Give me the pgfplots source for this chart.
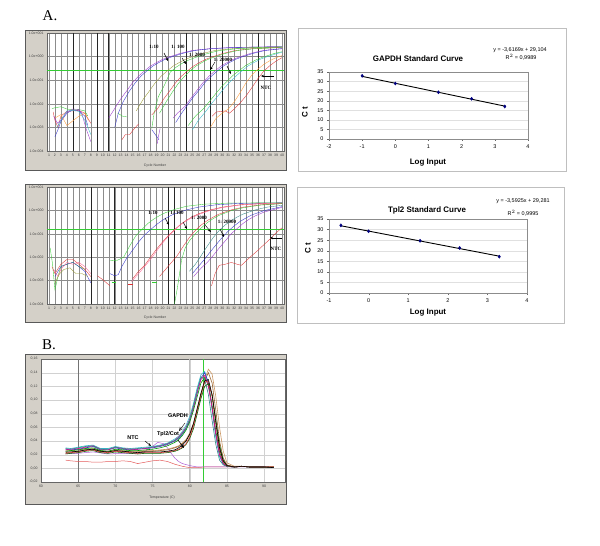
\documentclass[border=0pt]{standalone}
\usepackage{fontspec}
\setmainfont{Liberation Serif}
\setsansfont{Liberation Sans}
\usepackage{pgfplots}
\pgfplotsset{compat=1.18}
\usepackage{pgfplotstable}
\usetikzlibrary{arrows.meta}
\definecolor{winbg}{HTML}{D4D0C8}
\definecolor{thr}{HTML}{33CC33}
\definecolor{cpur}{HTML}{9933CC}
\definecolor{cblu}{HTML}{3333CC}
\definecolor{coli}{HTML}{999933}
\definecolor{cgrn}{HTML}{33CC33}
\definecolor{cred}{HTML}{DD3333}
\definecolor{cpnk}{HTML}{FF6699}
\definecolor{ccya}{HTML}{33BBCC}
\definecolor{cora}{HTML}{FF9933}
\definecolor{ctea}{HTML}{338888}
\definecolor{cnavy}{HTML}{000080}
\definecolor{ctan}{HTML}{CC9966}
\definecolor{cbrn}{HTML}{996633}

\pgfplotstableread{
x m1 m2 m3 m4 m5 m6 m7 m8 m9 m10
63.3 0.028 0.025 0.022 0.024 0.030 0.026 0.027 0.021 0.023 0.029
64 0.027 0.026 0.023 0.024 0.029 0.026 0.028 0.022 0.024 0.028
65 0.028 0.027 0.024 0.025 0.031 0.027 0.029 0.023 0.025 0.030
66 0.030 0.029 0.026 0.027 0.033 0.028 0.031 0.025 0.027 0.032
67 0.032 0.030 0.027 0.028 0.034 0.029 0.033 0.026 0.028 0.033
68 0.027 0.026 0.024 0.025 0.029 0.026 0.028 0.023 0.025 0.028
69 0.027 0.025 0.023 0.024 0.029 0.025 0.027 0.022 0.024 0.028
70 0.030 0.028 0.025 0.026 0.032 0.027 0.031 0.024 0.026 0.031
71 0.028 0.027 0.024 0.025 0.030 0.026 0.029 0.023 0.025 0.029
72 0.027 0.026 0.023 0.024 0.029 0.025 0.028 0.022 0.024 0.028
73 0.028 0.026 0.022 0.023 0.030 0.025 0.028 0.021 0.024 0.029
74 0.029 0.027 0.023 0.024 0.031 0.026 0.029 0.022 0.025 0.030
75 0.030 0.028 0.023 0.024 0.032 0.026 0.031 0.022 0.025 0.031
76 0.032 0.030 0.023 0.024 0.034 0.027 0.033 0.022 0.026 0.033
77 0.035 0.033 0.024 0.025 0.037 0.028 0.036 0.023 0.027 0.036
78 0.040 0.038 0.026 0.027 0.043 0.031 0.041 0.025 0.030 0.041
78.5 0.044 0.042 0.028 0.030 0.047 0.033 0.046 0.027 0.032 0.045
79 0.050 0.048 0.031 0.034 0.054 0.037 0.052 0.030 0.036 0.051
79.5 0.058 0.056 0.036 0.040 0.063 0.042 0.060 0.035 0.041 0.059
80 0.070 0.068 0.046 0.050 0.076 0.052 0.072 0.044 0.050 0.072
80.5 0.088 0.085 0.062 0.066 0.095 0.066 0.090 0.058 0.064 0.092
81 0.110 0.105 0.085 0.088 0.118 0.085 0.112 0.080 0.084 0.115
81.5 0.132 0.125 0.108 0.110 0.137 0.108 0.130 0.102 0.106 0.134
82 0.140 0.133 0.126 0.128 0.142 0.130 0.136 0.120 0.128 0.130
82.5 0.125 0.122 0.128 0.130 0.125 0.145 0.120 0.124 0.140 0.108
83 0.090 0.092 0.105 0.108 0.085 0.138 0.088 0.108 0.125 0.070
83.5 0.050 0.055 0.065 0.068 0.045 0.105 0.050 0.072 0.085 0.035
84 0.020 0.024 0.028 0.030 0.017 0.060 0.020 0.034 0.040 0.012
84.5 0.007 0.008 0.010 0.011 0.006 0.025 0.007 0.012 0.015 0.005
85 0.003 0.003 0.004 0.004 0.003 0.008 0.003 0.004 0.005 0.003
86 0.002 0.002 0.002 0.002 0.002 0.003 0.002 0.002 0.002 0.002
87 0.003 0.003 0.003 0.003 0.003 0.003 0.003 0.003 0.003 0.003
88 0.002 0.002 0.002 0.002 0.002 0.002 0.002 0.002 0.002 0.002
89 0.002 0.002 0.002 0.002 0.002 0.002 0.002 0.002 0.002 0.002
90 0.002 0.001 0.002 0.002 0.002 0.002 0.002 0.002 0.002 0.002
91.3 0.001 0.001 0.002 0.001 0.001 0.001 0.001 0.002 0.001 0.001
}\melttable

\begin{document}
\begin{tikzpicture}
\useasboundingbox (0,0) rectangle (600bp,-546bp);
\fill[white] (0,0) rectangle (600bp,-546bp);
\begin{scope}[x=1bp,y=-1bp]
 \fill[winbg] (25,30) rectangle (286,170);
 \draw[black!65, line width=0.6pt] (25,30) rectangle (286,170);
 \fill[winbg] (25,184) rectangle (286,322);
 \draw[black!65, line width=0.6pt] (25,184) rectangle (286,322);
 \fill[winbg] (25,354) rectangle (286,504);
 \draw[black!65, line width=0.6pt] (25,354) rectangle (286,504);
 \draw[black!25, line width=0.5pt] (298,28) rectangle (566,171);
 \draw[black!25, line width=0.5pt] (297,187) rectangle (564,323);
 \node[font=\fontsize{15}{15}\selectfont] at (50,16) {A.};
 \node[font=\fontsize{15}{15}\selectfont] at (49,345) {B.};
 \node[font=\sffamily\fontsize{3.5}{4}\selectfont, text=black!75] at (155,166) {Cycle Number};
 \node[font=\sffamily\fontsize{3.5}{4}\selectfont, text=black!75] at (155,318) {Cycle Number};
 \node[font=\sffamily\fontsize{3.5}{4}\selectfont, text=black!75] at (162,498) {Temperature (C)};
 \node[font=\sffamily\bfseries\fontsize{8}{8}\selectfont] at (418,59) {GAPDH Standard Curve};
 \node[font=\sffamily\fontsize{5.5}{6}\selectfont] at (520,50) {y = -3,6169x + 29,104};
 \node[font=\sffamily\fontsize{5.5}{6}\selectfont] at (521,57) {R$^2$ = 0,9989};
 \node[font=\sffamily\bfseries\fontsize{8}{8}\selectfont, rotate=90] at (305,112) {C t};
 \node[font=\sffamily\bfseries\fontsize{8}{8}\selectfont] at (428,163) {Log Input};
 \node[font=\sffamily\bfseries\fontsize{8}{8}\selectfont] at (427,210) {Tpl2 Standard Curve};
 \node[font=\sffamily\fontsize{5.5}{6}\selectfont] at (523,201) {y = -3,5925x + 29,281};
 \node[font=\sffamily\fontsize{5.5}{6}\selectfont] at (523,213) {R$^2$ = 0,9995};
 \node[font=\sffamily\bfseries\fontsize{8}{8}\selectfont, rotate=90] at (308,248) {C t};
 \node[font=\sffamily\bfseries\fontsize{8}{8}\selectfont] at (428,313) {Log Input};
\end{scope}

% ---------- GAPDH amplification ----------
\begin{axis}[scale only axis, width=237bp, height=118bp, anchor=north west,
  at={(47bp,-33bp)},
  xmin=0.67, xmax=40.33, ymode=log, ymin=1e-4, ymax=10,
  xtick={1,...,40}, ytick={1e-4,1e-3,1e-2,1e-1,1,10},
  yticklabels={1.0e-004,1.0e-003,1.0e-002,1.0e-001,1.0e+000,1.0e+001},
  yminorticks=false,
  tick label style={font=\sffamily\fontsize{3.5}{4}\selectfont, text=black!75},
  /pgf/number format/assume math mode=true,
  xmajorgrids, ymajorgrids, grid style={black!45, line width=0.3pt},
  major tick length=0pt,
  axis line style={black!60},
  axis background/.style={fill=white},
  every axis plot/.append style={line width=0.35pt, mark=none}]
\addplot[black!85, line width=0.5pt] coordinates {(5,1e-4)(5,10)};
\addplot[black!85, line width=0.5pt] coordinates {(9,1e-4)(9,10)};
\addplot[black!85, line width=0.5pt] coordinates {(11,1e-4)(11,10)};
\addplot[black!85, line width=0.5pt] coordinates {(24,1e-4)(24,10)};
\addplot[black!85, line width=0.5pt] coordinates {(28,1e-4)(28,10)};
\addplot[black!85, line width=0.5pt] coordinates {(30,1e-4)(30,10)};
\addplot[black!85, line width=0.5pt] coordinates {(36,1e-4)(36,10)};
\addplot[thr, line width=1.1pt] coordinates {(0.67,0.25)(40.33,0.25)};
\addplot[cgrn] coordinates {(1.5,0.0063)(2,0.0068)(3,0.0075)(4,0.006)(5,0.0055)(6,0.0057)(7,0.005)(7.5,0.003)};
\addplot[cred] coordinates {(1.7,0.0045)(2,0.002)(2.5,0.001)(3,0.003)(4,0.0048)(5,0.005)(6,0.0052)(7,0.004)(8,0.0015)};
\addplot[cblu] coordinates {(2,0.0004)(2.5,0.0008)(3,0.0018)(4,0.004)(5,0.0055)(6,0.005)(7,0.003)(7.5,0.0012)};
\addplot[cpur] coordinates {(1.8,0.003)(2.4,0.0015)(3,0.002)(4,0.0045)(5,0.006)(6,0.0058)(6.5,0.004)(7.2,0.0009)(8,0.00025)};
\addplot[cora] coordinates {(2,0.0025)(3,0.0035)(4,0.0012)(5,0.0019)(6,0.003)(7,0.004)(7.6,0.002)};
\addplot[ccya] coordinates {(2.3,0.001)(3,0.002)(4,0.005)(5,0.0052)(6,0.0048)(7,0.002)(8,0.0005)};
\addplot[cred] coordinates {(13.2,0.0003)(13.8,0.0005)(14.5,0.0005)(15.3,0.0009)(16.0,0.0014)};
\addplot[cgrn] coordinates {(12.5,0.004)(13.3,0.003)(14.0,0.0028)};
\addplot[cblu] coordinates {(18.2,0.0008)(18.8,0.0005)(19.4,0.0003)};
\addplot[cpur] coordinates {(19.6,0.0009)(19.3,0.0004)(19.1,0.0002)};
\addplot[cpur] coordinates {(11.0,0.0025)(12,0.0063)(13,0.016)(14,0.035)(15,0.079)(16,0.15)(17,0.25)(18,0.40)(19,0.56)(20,0.76)(21,0.95)(23,1.38)(25,1.82)(28,2.19)(32,2.45)(37,2.57)(40,2.6)};
\addplot[cblu] coordinates {(12.0,0.001)(12.6,0.004)(13.4,0.012)(14.4,0.033)(15.4,0.075)(16.4,0.15)(17.4,0.25)(18.4,0.40)(19.4,0.56)(20.4,0.76)(21.4,0.95)(23.4,1.38)(25.4,1.82)(28.4,2.19)(32.4,2.45)(37.4,2.57)(40,2.6)};
\addplot[coli] coordinates {(15.6,0.005)(16.8,0.016)(17.8,0.035)(18.8,0.079)(19.8,0.15)(20.8,0.25)(21.8,0.40)(22.8,0.56)(23.8,0.76)(24.8,0.95)(26.8,1.38)(28.8,1.82)(31.8,2.19)(35.8,2.45)(40,2.57)};
\addplot[cgrn] coordinates {(18.2,0.0009)(18.6,0.004)(19.3,0.02)(20.3,0.06)(21.3,0.22)(22.3,0.36)(23.3,0.52)(24.3,0.7)(25.3,0.88)(27.3,1.3)(29.3,1.75)(32.3,2.15)(36.3,2.42)(40,2.55)};
\addplot[cred] coordinates {(18.2,0.0034)(19.2,0.0063)(20.2,0.016)(21.2,0.035)(22.2,0.079)(23.2,0.15)(24.2,0.25)(25.2,0.40)(26.2,0.56)(27.2,0.76)(28.2,0.95)(30.2,1.38)(32.2,1.82)(35.2,2.19)(40,2.45)};
\addplot[cgrn] coordinates {(19.5,0.004)(20.6,0.012)(21.6,0.03)(22.6,0.07)(23.6,0.14)(24.6,0.25)(25.6,0.40)(26.6,0.56)(27.6,0.76)(28.6,0.95)(30.6,1.38)(32.6,1.82)(35.6,2.19)(40,2.42)};
\addplot[cpur] coordinates {(21.8,0.0025)(22.5,0.004)(23.8,0.008)(24.8,0.018)(25.8,0.038)(26.8,0.08)(27.8,0.15)(28.8,0.25)(29.8,0.40)(30.8,0.56)(31.8,0.76)(32.8,0.95)(34.8,1.38)(36.8,1.82)(40,2.2)};
\addplot[cblu] coordinates {(22.2,0.0016)(23.2,0.004)(24.2,0.009)(25.2,0.02)(26.2,0.04)(27.2,0.085)(28.2,0.15)(29.2,0.25)(30.2,0.40)(31.2,0.56)(32.2,0.76)(33.2,0.95)(35.2,1.38)(37.2,1.82)(40,2.15)};
\addplot[cgrn] coordinates {(24.3,0.0012)(25.5,0.003)(26.8,0.006)(27.8,0.012)(28.8,0.025)(29.8,0.05)(30.8,0.09)(31.8,0.16)(32.8,0.25)(33.8,0.40)(34.8,0.56)(35.8,0.76)(36.8,0.95)(38.8,1.38)(40,1.6)};
\addplot[ccya] coordinates {(25,0.0008)(26,0.002)(27.3,0.005)(28.3,0.011)(29.3,0.022)(30.3,0.045)(31.3,0.085)(32.3,0.15)(33.3,0.25)(34.3,0.40)(35.3,0.56)(36.3,0.76)(37.3,0.95)(39.3,1.38)(40,1.5)};
\addplot[cora] coordinates {(28,0.001)(29,0.0025)(30,0.004)(31,0.006)(32,0.012)(33,0.03)(34,0.08)(35,0.17)(36,0.3)(37,0.48)(38,0.68)(39,0.9)(40,1.1)};
\addplot[cred] coordinates {(28.3,0.003)(29,0.0045)(30.5,0.005)(31.2,0.004)(32,0.006)(33,0.011)(34,0.022)(35,0.05)(36,0.12)(37,0.25)(38,0.42)(39,0.65)(40,0.9)};
\end{axis}

% ---------- Tpl2 amplification ----------
\begin{axis}[scale only axis, width=237bp, height=117bp, anchor=north west,
  at={(47bp,-187bp)},
  xmin=0.67, xmax=40.33, ymode=log, ymin=1e-4, ymax=10,
  xtick={1,...,40}, ytick={1e-4,1e-3,1e-2,1e-1,1,10},
  yticklabels={1.0e-004,1.0e-003,1.0e-002,1.0e-001,1.0e+000,1.0e+001},
  yminorticks=false,
  tick label style={font=\sffamily\fontsize{3.5}{4}\selectfont, text=black!75},
  /pgf/number format/assume math mode=true,
  xmajorgrids, ymajorgrids, grid style={black!45, line width=0.3pt},
  major tick length=0pt,
  axis line style={black!60},
  axis background/.style={fill=white},
  every axis plot/.append style={line width=0.35pt, mark=none}]
\addplot[black!85, line width=0.5pt] coordinates {(8,1e-4)(8,10)};
\addplot[black!85, line width=0.5pt] coordinates {(12,1e-4)(12,10)};
\addplot[black!85, line width=0.5pt] coordinates {(21,1e-4)(21,10)};
\addplot[black!85, line width=0.5pt] coordinates {(22,1e-4)(22,10)};
\addplot[black!85, line width=0.5pt] coordinates {(27,1e-4)(27,10)};
\addplot[black!85, line width=0.5pt] coordinates {(38,1e-4)(38,10)};
\addplot[thr, line width=1.1pt] coordinates {(0.67,0.15)(40.33,0.15)};
\addplot[cgrn] coordinates {(1.2,0.025)(1.6,0.005)(2,0.0004)(2.5,0.0015)(3,0.004)(4,0.005)(5,0.006)(6,0.004)(7,0.003)};
\addplot[cred] coordinates {(1.5,0.004)(2,0.002)(3,0.005)(4,0.008)(5,0.008)(6,0.005)(7,0.003)(8,0.0015)};
\addplot[cblu] coordinates {(2,0.0015)(3,0.004)(4,0.005)(5,0.006)(6,0.004)(7,0.0025)(8,0.0008)};
\addplot[cpnk] coordinates {(1.8,0.003)(2.5,0.0015)(3,0.003)(4,0.006)(5,0.005)(6,0.006)(7,0.004)(8,0.002)};
\addplot[coli] coordinates {(2,0.0008)(2.8,0.002)(3.5,0.003)(4.5,0.0035)(5.5,0.002)(6.5,0.002)(7.5,0.0015)};
\addplot[cred] coordinates {(9.1,0.0016)(10,0.0011)(11.2,0.0006)};
\addplot[cgrn] coordinates {(11.5,0.0009)(12.3,0.0009)};
\addplot[cred] coordinates {(14.3,0.0007)(15.0,0.0007)};
\addplot[cgrn] coordinates {(18.3,0.0009)(19.0,0.0009)};
\addplot[cgrn] coordinates {(11.2,0.007)(12.5,0.0075)(13.5,0.01)(14.5,0.03)(15.5,0.08)(16.5,0.15)(17.5,0.27)(18.5,0.42)(19.5,0.6)(20.5,0.8)(22,1.1)(24,1.5)(27,1.85)(31,2.05)(36,2.1)(40,2.1)};
\addplot[cblu] coordinates {(11.2,0.002)(12,0.0016)(12.6,0.0018)(13.2,0.004)(14,0.009)(15,0.02)(16,0.045)(17,0.09)(18,0.15)(19,0.25)(20,0.38)(21,0.54)(22,0.71)(24,1.05)(26,1.38)(29,1.74)(33,2.0)(40,2.1)};
\addplot[cred] coordinates {(15,0.0012)(16,0.0025)(17,0.0045)(18,0.01)(19,0.022)(20,0.045)(21,0.085)(22,0.15)(23,0.25)(24,0.38)(25,0.54)(26,0.71)(28,1.05)(30,1.38)(33,1.74)(37,2.0)(40,2.05)};
\addplot[cpnk] coordinates {(14.8,0.0009)(16,0.002)(17,0.004)(18,0.008)(19,0.018)(20,0.04)(21,0.08)(22,0.14)(23,0.24)(24,0.36)(25,0.5)(26,0.66)(28,1.0)(30,1.32)(33,1.7)(37,1.95)(40,2.0)};
\addplot[cred] coordinates {(19.5,0.0015)(20.5,0.003)(21.5,0.006)(22.5,0.012)(23.5,0.03)(24.5,0.07)(25.5,0.14)(26.5,0.24)(27.5,0.37)(28.5,0.52)(29.5,0.7)(31.5,1.05)(33.5,1.38)(36.5,1.74)(40,1.95)};
\addplot[cgrn] coordinates {(22.0,0.0001)(22.5,0.0005)(23.2,0.008)(23.8,0.025)(24.5,0.05)(25.5,0.1)(26.5,0.18)(27.5,0.3)(28.5,0.45)(29.5,0.62)(31.5,0.98)(33.5,1.3)(36.5,1.7)(40,1.95)};
\addplot[ctea] coordinates {(24.5,0.0025)(25.5,0.005)(26.5,0.012)(27.5,0.03)(28.5,0.07)(29.5,0.14)(30.5,0.24)(31.5,0.37)(32.5,0.52)(33.5,0.7)(35.5,1.05)(37.5,1.38)(40,1.65)};
\addplot[cblu] coordinates {(25,0.002)(26,0.004)(27,0.008)(28,0.017)(29,0.035)(30,0.07)(31,0.13)(32,0.22)(33,0.34)(34,0.48)(35,0.65)(37,0.98)(40,1.45)};
\addplot[cpur] coordinates {(25.2,0.0015)(26.5,0.0035)(27.5,0.006)(28.5,0.012)(29.5,0.025)(30.5,0.05)(31.5,0.1)(32.5,0.17)(33.5,0.28)(34.5,0.42)(35.5,0.58)(37,0.85)(40,1.35)};
\addplot[cred] coordinates {(28.2,0.0006)(28.8,0.002)(29.5,0.0045)(30.5,0.005)(31.5,0.006)(32.5,0.005)(33.2,0.0045)(34,0.007)(35,0.012)(36,0.02)(37,0.035)(38,0.06)(39,0.11)(40,0.18)};
\end{axis}

% ---------- GAPDH standard curve ----------
\begin{axis}[scale only axis, anchor=north west, at={(329bp,-72bp)}, width=199bp, height=67bp,
  xmin=-2, xmax=4, xtick={-2,...,4}, ymin=0, ymax=35, ytick={0,5,...,35},
  tick label style={font=\sffamily\fontsize{5.5}{6}\selectfont},
  /pgf/number format/assume math mode=true,
  ymajorgrids, grid style={black!12},
  axis line style={black!45}, tick style={black!60},
  major tick length=2bp, tick align=outside, xtick pos=bottom, ytick pos=left]
\addplot[black, line width=0.9pt] coordinates {(-1,32.72)(3.3,17.17)};
\addplot[only marks, mark=diamond*, mark size=1.6pt, cnavy] coordinates {(-1,33)(0,29)(1.3,24.4)(2.3,21)(3.3,17)};
\end{axis}

% ---------- Tpl2 standard curve ----------
\begin{axis}[scale only axis, anchor=north west, at={(329bp,-219bp)}, width=198bp, height=74bp,
  xmin=-1, xmax=4, xtick={-1,...,4}, ymin=0, ymax=35, ytick={0,5,...,35},
  tick label style={font=\sffamily\fontsize{5.5}{6}\selectfont},
  /pgf/number format/assume math mode=true,
  ymajorgrids, grid style={black!12},
  axis line style={black!45}, tick style={black!60},
  major tick length=2bp, tick align=outside, xtick pos=bottom, ytick pos=left]
\addplot[black, line width=0.9pt] coordinates {(-0.7,31.8)(3.3,17.42)};
\addplot[only marks, mark=diamond*, mark size=1.6pt, cnavy] coordinates {(-0.7,32)(0,29.2)(1.3,24.7)(2.3,21.3)(3.3,17.2)};
\end{axis}

% ---------- melt curves ----------
\begin{axis}[scale only axis, anchor=north west, at={(41bp,-359bp)},
  width=244bp, height=123bp,
  xmin=60, xmax=92.8, ymin=-0.02, ymax=0.16,
  xtick={60,65,...,90}, ytick={-0.02,0,0.02,0.04,0.06,0.08,0.1,0.12,0.14,0.16},
  yticklabels={{-0,02},{0,00},{0,02},{0,04},{0,06},{0,08},{0,10},{0,12},{0,14},{0,16}},
  tick label style={font=\sffamily\fontsize{3.5}{4}\selectfont, text=black!75},
  /pgf/number format/assume math mode=true,
  xmajorgrids, ymajorgrids, grid style={black!18, line width=0.3pt},
  major tick length=0pt,
  axis line style={black!60},
  axis background/.style={fill=white},
  every axis plot/.append style={line width=0.6pt, mark=none}]
\addplot[black!55, line width=1.2pt] coordinates {(65,-0.02)(65,0.16)};
\addplot[black!25, line width=1.2pt] coordinates {(80,-0.02)(80,0.16)};
\addplot[thr, line width=1.3pt] coordinates {(81.8,-0.02)(81.8,0.16)};
\addplot[cred!80, line width=0.5pt] coordinates {(63.3,0.012)(64,0.011)(65,0.010)(66,0.010)(67,0.009)(68,0.009)(69,0.010)(70,0.010)(71,0.011)(72,0.010)(73,0.007)(74,0.009)(75,0.011)(76,0.012)(77,0.010)(78,0.006)(79,0.003)(80,0.001)(81,0.001)(82,0.002)(84,0.002)(86,0.002)(88,0.003)(90,0.002)(91.3,0.003)};
\addplot[cpur!80, line width=0.5pt] coordinates {(63.3,0.022)(65,0.022)(67,0.024)(69,0.021)(71,0.022)(73,0.022)(74,0.025)(75,0.032)(75.7,0.038)(76.5,0.036)(77,0.030)(77.5,0.022)(78,0.015)(78.5,0.010)(79,0.007)(80,0.004)(81,0.002)(82,0.002)(85,0.002)(88,0.002)(91.3,0.001)};
\addplot[ctan] table[x=x,y=m6] {\melttable};
\addplot[cbrn] table[x=x,y=m9] {\melttable};
\addplot[ccya] table[x=x,y=m5] {\melttable};
\addplot[cblu] table[x=x,y=m1] {\melttable};
\addplot[green!60!black] table[x=x,y=m2] {\melttable};
\addplot[magenta] table[x=x,y=m7] {\melttable};
\addplot[ctea] table[x=x,y=m10] {\melttable};
\addplot[green!40!black] table[x=x,y=m8] {\melttable};
\addplot[cred] table[x=x,y=m3] {\melttable};
\addplot[black] table[x=x,y=m4] {\melttable};
\end{axis}

% ---------- annotations ----------
\begin{scope}[x=1bp,y=-1bp, font=\bfseries\fontsize{5}{5}\selectfont]
 \node at (154,47) {1:10};
 \node at (178,47) {1: 100};
 \node at (197,55) {1: 2000};
 \node at (223,60) {1: 20000};
 \node at (266,88) {NTC};
 \draw[line width=0.5pt, -{Stealth[length=3bp,width=2.5bp]}] (164,53) -- (168,61);
 \draw[line width=0.5pt, -{Stealth[length=3bp,width=2.5bp]}] (182,58) -- (186,64);
 \draw[line width=0.4pt, -{Stealth[open,length=3.5bp,width=3bp]}] (215,62) -- (210,70);
 \draw[line width=0.5pt, -{Stealth[length=3bp,width=2.5bp]}] (227,66) -- (231,74);
 \draw[line width=0.5pt, -{Stealth[length=3bp,width=2.5bp]}] (274,76) -- (261,76);
 \node at (153,213) {1:10};
 \node at (177,213) {1: 100};
 \node at (199,218) {1: 2000};
 \node at (227,222) {1: 20000};
 \node at (276,249) {NTC};
 \draw[line width=0.5pt, -{Stealth[length=3bp,width=2.5bp]}] (165,218) -- (169,225);
 \draw[line width=0.5pt, -{Stealth[length=3bp,width=2.5bp]}] (183,222) -- (187,229);
 \draw[line width=0.4pt, -{Stealth[open,length=3.5bp,width=3bp]}] (205,225) -- (211,232);
 \draw[line width=0.5pt, -{Stealth[length=3bp,width=2.5bp]}] (220,229) -- (224,237);
 \draw[line width=0.5pt, -{Stealth[length=3bp,width=2.5bp]}] (282,238) -- (270,238);
\end{scope}
\begin{scope}[x=1bp,y=-1bp, font=\sffamily\bfseries\fontsize{5.5}{6}\selectfont]
 \node at (133,438) {NTC};
 \node at (178,416) {GAPDH};
 \node at (168,434) {Tpl2/Cot};
 \draw[line width=0.5pt, -{Stealth[length=3bp,width=2.5bp]}] (145,441) -- (151,446);
 \draw[line width=0.4pt, -{Stealth[open,length=4bp,width=3.5bp]}] (185,423) -- (179,431);
 \draw[line width=0.6pt, -{Stealth[length=4bp,width=3.5bp]}] (178,440) -- (184,448);
\end{scope}
\end{tikzpicture}
\end{document}
